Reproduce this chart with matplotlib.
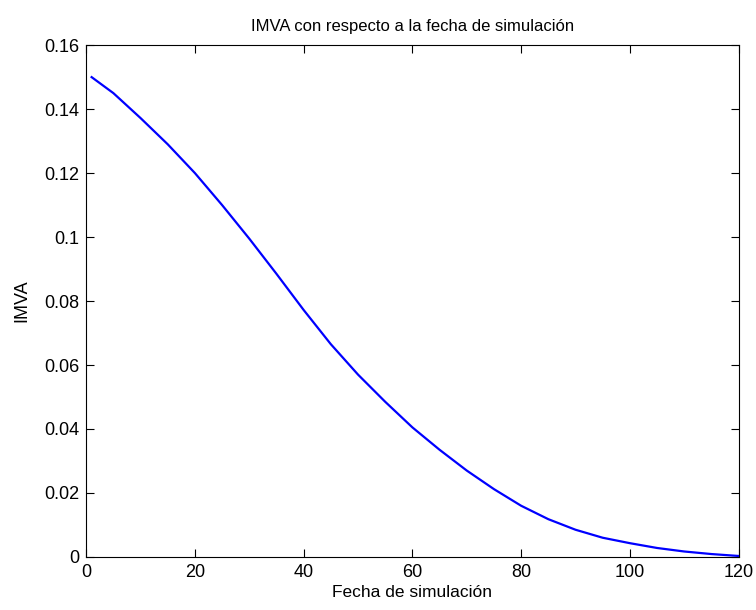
import numpy as np
import matplotlib
matplotlib.use('Agg')
import matplotlib.pyplot as plt
from matplotlib.ticker import FormatStrFormatter

plt.rcParams['font.family'] = ['Liberation Sans', 'DejaVu Sans']

# values
fecha = [1, 5, 10, 15, 20, 25, 30, 35, 40, 45, 50, 55, 60, 65, 70, 75,
         80, 85, 90, 95, 100, 105, 110, 115, 120]
imva = [0.1500, 0.1450, 0.1372, 0.1290, 0.1200, 0.1100, 0.0995, 0.0885,
        0.0772, 0.0665, 0.0570, 0.0485, 0.0405, 0.0335, 0.0270, 0.0212,
        0.0160, 0.0118, 0.0085, 0.0060, 0.0043, 0.0028, 0.0017, 0.0009,
        0.0003]
xticks = [0, 20, 40, 60, 80, 100, 120]
yticks = [0, 0.02, 0.04, 0.06, 0.08, 0.1, 0.12, 0.14, 0.16]

fig = plt.figure(figsize=(7.56, 6.10), dpi=100)
ax = fig.add_axes([0.114, 0.087, 0.863, 0.839])
ax.plot(fecha, imva, color='#0000ff', lw=1.6)

ax.set_xlim(0, 120)
ax.set_ylim(0, 0.16)
ax.set_xticks(xticks)
ax.set_yticks(yticks)
ax.yaxis.set_major_formatter(FormatStrFormatter('%g'))
ax.tick_params(direction='in', top=True, right=True, length=6, labelsize=13,
               width=0.8, pad=5)
for s in ax.spines.values():
    s.set_linewidth(0.8)

ax.set_title('IMVA con respecto a la fecha de simulación', fontsize=12, pad=10)
ax.set_xlabel('Fecha de simulación', fontsize=12.5, labelpad=3)
ax.set_ylabel('IMVA', fontsize=13, labelpad=10)

fig.savefig('out.png', dpi=100)
